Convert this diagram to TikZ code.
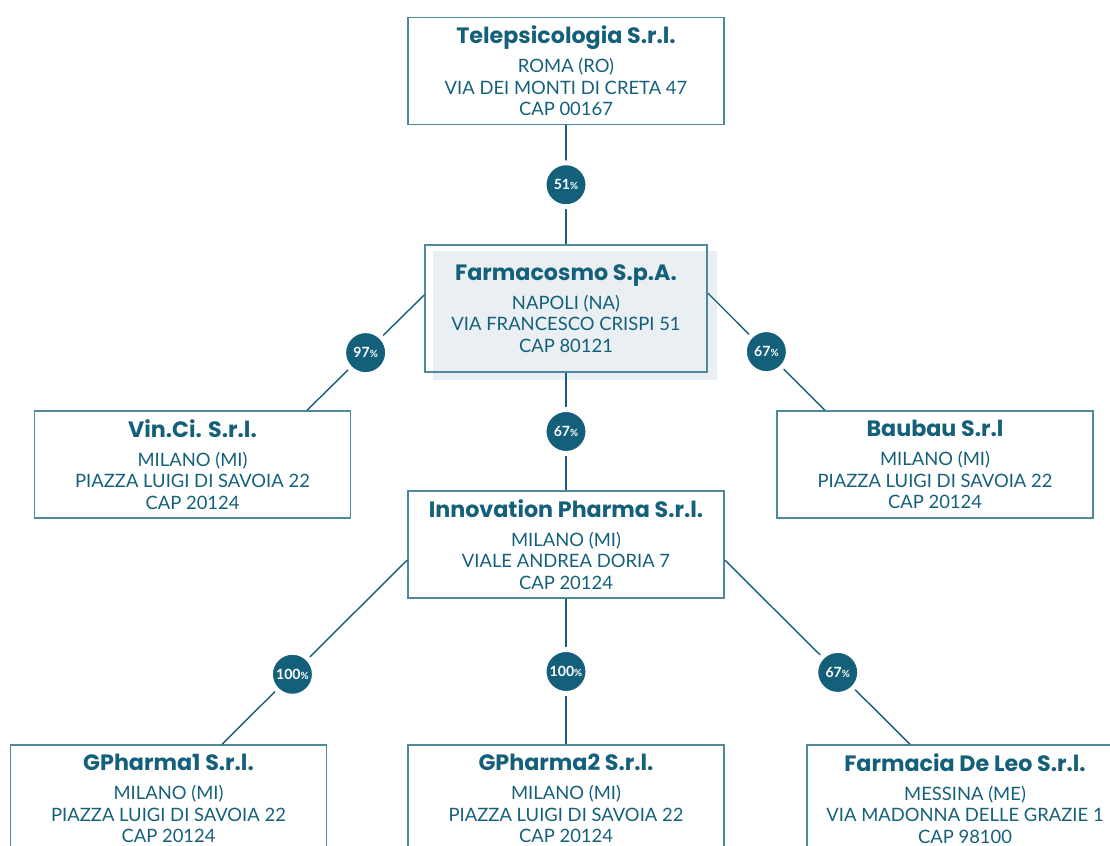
\documentclass[tikz,border=0pt]{standalone}
\usepackage{fontspec}
\setmainfont{Lato}
\newfontfamily\headfont{Poppins}
\usetikzlibrary{calc,backgrounds}

\definecolor{petrol}{HTML}{14607A}
\definecolor{framecol}{HTML}{4E8A9C}
\definecolor{shadecol}{HTML}{E9EFF2}

\newcommand{\firm}[1]{{\headfont\fontsize{15.8}{18}\selectfont\bfseries #1}\\[5.5pt]}
\newcommand{\pct}{{\fontsize{7}{7}\selectfont\%}}

\tikzset{
  company/.style={draw=framecol, line width=1pt, minimum width=7.9cm,
    minimum height=2.675cm, align=center, text=petrol, inner sep=0pt,
    font=\fontsize{13.1}{15.3}\selectfont},
  badge/.style={circle, fill=petrol, draw=white, line width=3.5pt,
    minimum size=1.1cm, inner sep=0pt, text=white,
    font=\bfseries\fontsize{10}{10}\selectfont},
  link/.style={draw=petrol, line width=1pt}
}

\begin{document}
\begin{tikzpicture}[x=0.025cm, y=-0.025cm]
  \useasboundingbox (0,0) rectangle (1110,846);
  \clip (0,0) rectangle (1110,846);

  % ─────────── companies ───────────────────────────────────────────
  \node[company] (telepsi) at (566,71)
    {\firm{Telepsicologia S.r.l.}ROMA (RO)\\VIA DEI MONTI DI CRETA 47\\CAP 00167};
  \node[company, minimum width=7.05cm, minimum height=3.175cm] (farma) at (566,308.5)
    {\firm{Farmacosmo S.p.A.}NAPOLI (NA)\\VIA FRANCESCO CRISPI 51\\CAP 80121};
  \node[company] (vinci) at (192.5,464.5)
    {\firm{Vin.Ci. S.r.l.}MILANO (MI)\\PIAZZA LUIGI DI SAVOIA 22\\CAP 20124};
  \node[company] (baubau) at (935,464.5)
    {\firm{Baubau S.r.l}MILANO (MI)\\PIAZZA LUIGI DI SAVOIA 22\\CAP 20124};
  \node[company] (innov) at (566,544.5)
    {\firm{Innovation Pharma S.r.l.}MILANO (MI)\\VIALE ANDREA DORIA 7\\CAP 20124};
  \node[company] (gph1) at (168.5,798.5)
    {\firm{GPharma1 S.r.l.}MILANO (MI)\\PIAZZA LUIGI DI SAVOIA 22\\CAP 20124};
  \node[company] (gph2) at (566,798.5)
    {\firm{GPharma2 S.r.l.}MILANO (MI)\\PIAZZA LUIGI DI SAVOIA 22\\CAP 20124};
  \node[company] (deleo) at (965,798.5)
    {\firm{Farmacia De Leo S.r.l.}MESSINA (ME)\\VIA MADONNA DELLE GRAZIE 1\\CAP 98100};

  % ─────────── highlight behind the holding ──────────────────────────
  \begin{scope}[on background layer]
    \fill[shadecol] ($(farma.south west)+(9,7)$) rectangle ($(farma.north east)+(9,7)$);
  \end{scope}

  % ─────────── shares ──────────────────────────────────────────────
  \draw[link] (telepsi.south) -- node[badge] {51\pct} (farma.north);
  \draw[link] ($(farma.west)+(0,-13.5)$) -- node[badge] {97\pct} ($(vinci.north)+(114.5,0)$);
  \draw[link] ($(farma.east)+(0,-15.5)$) -- node[badge] {67\pct} ($(baubau.north)+(-110,0)$);
  \draw[link] (farma.south) -- node[badge] {67\pct} (innov.north);
  \draw[link] ($(innov.west)+(0,15.5)$) -- node[badge, pos=0.62] {100\pct} ($(gph1.north)+(53.5,0)$);
  \draw[link] (innov.south) -- node[badge] {100\pct} (gph2.north);
  \draw[link] ($(innov.east)+(0,15.5)$) -- node[badge, pos=0.61] {67\pct} ($(deleo.north)+(-55,0)$);
\end{tikzpicture}
\end{document}
